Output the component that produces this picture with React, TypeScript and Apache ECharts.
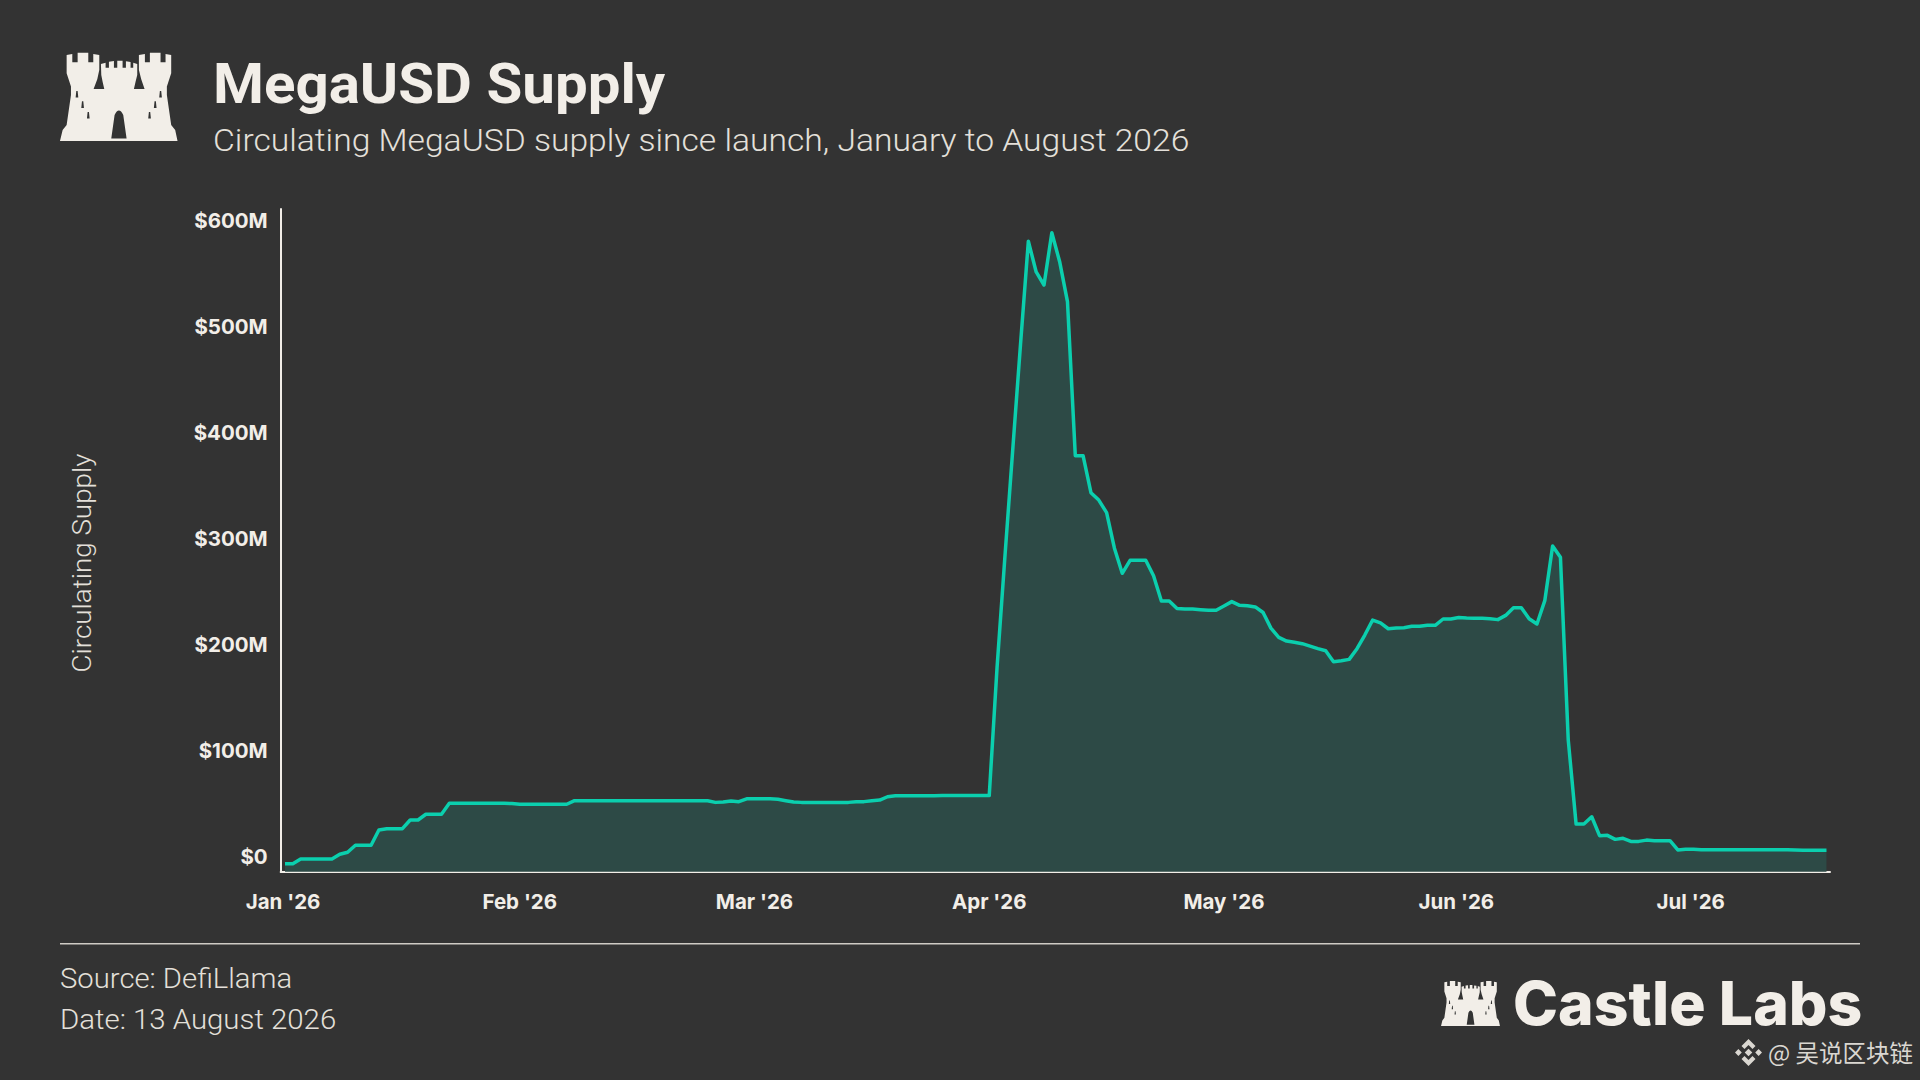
import React, { useEffect, useRef } from "react";
import * as echarts from "echarts";

const TITLE = "MegaUSD Supply";
const SUBTITLE = "Circulating MegaUSD supply since launch, January to August 2026";
const Y_NAME = "Circulating Supply";
const SOURCE = "Source: DefiLlama";
const DATE = "Date: 13 August 2026";
const BRAND = "Castle Labs";
const WATERMARK = "@ 吴说区块链";

const monthLabels = ["Jan '26", "Feb '26", "Mar '26", "Apr '26", "May '26", "Jun '26", "Jul '26"];
const monthTicks = [-0.25, 30, 60, 90, 120, 149.7, 179.65];
const yTicks = [0, 100, 200, 300, 400, 500, 600];

// $M, one value per sampled point
const supplyRamp = [
  -7.2, -7.2, -2.8, -2.8, -2.8, -2.8, -2.8, 1.6, 3.5, 10.1, 10.1, 10.1, 24.5, 25.8, 25.8, 25.8, 34, 34, 39.4, 39.4,
  39.4, 49.7, 49.7, 49.7, 49.7, 49.7, 49.7, 49.7, 49.7, 49.5, 48.8, 48.8, 48.8, 48.8, 48.8, 48.8, 48.8,
];
const supplyPlateau = [
  52.2, 52.2, 52.2, 52.2, 52.2, 52.2, 52.2, 52.2, 52.2, 52.2, 52.2, 52.2, 52.2, 52.2, 52.2, 52.2, 52.2, 52.2, 50.6, 51,
  52, 51.3, 54, 54, 54, 54, 53.5, 52.2, 51, 50.6, 50.6, 50.6, 50.6, 50.6, 50.6, 50.6, 51.3, 51.3, 52.2, 52.8, 55.9,
  56.9, 56.9, 56.9, 56.9, 56.9, 56.9, 57, 57, 57, 57.2, 57.2, 57.2, 57,
];
const supplySpike = [
  178, 282, 383, 483, 580, 551, 538.7, 588, 560.7, 523, 377.6, 377.6, 342.8, 335.8, 323.9, 290.4, 266.7, 279, 279, 279,
  264.4, 240.6, 240.6, 233.6, 233, 233, 232.4, 231.8, 231.8, 235.8, 240, 236.5, 236, 235, 229.7, 215, 206.3,
];
const supplyMiddle = [
  202.8, 201.6, 200.3, 198, 195.6, 193.7, 183.3, 184.3, 185.5, 195.6, 208.5, 222.6, 220, 214.4, 215, 215.4, 216.7,
  216.7, 217.6, 217.6, 223.6, 223.6, 225, 224.5, 224.2, 224.2, 223.9, 223, 227, 234.2, 234.2, 223.9, 218.9, 240.9,
  292.5, 281.8,
];
const supplyTail = [
  109.4, 30.2, 30.2, 37, 19.2, 19.5, 15.7, 16.7, 13.8, 13.8, 15, 14.5, 14.5, 14.5, 5.7, 6.3, 6.3, 6, 6, 6, 6, 6, 6, 6,
  6, 6, 6, 5.8, 5.8, 5.6, 5.5, 5.4, 5.4, 5.4,
];
const supplyValues = [...supplyRamp, ...supplyPlateau, ...supplySpike, ...supplyMiddle, ...supplyTail];

const BG = "#333333";
const INK = "#F2EEE8";
const SOFT = "#E4E0DA";
const MARK = "#DAD7D1";
const TEAL = "#0BCFAE";
const FILL = "#2D4A46";
const FONT = "Roboto";

const CASTLE =
  "M60,303 L68,270 L80,255 L93,165 L93,140 L80,100 L80,45 L97,42 L97,67 L113,67 L113,38 L145,38 L145,67 L160,67 L160,42 L178,45 L178,90 L172,118 L161,147 L193,147 L188,125 L184,105 L183,72 L197,68 L197,83 L207,83 L207,65 L222,63 L222,83 L232,83 L232,62 L248,62 L248,83 L258,83 L258,64 L272,66 L272,83 L280,83 L280,68 L292,72 L292,105 L287,125 L282,147 L314,147 L304,118 L297,90 L297,45 L315,42 L315,67 L330,67 L330,38 L362,38 L362,67 L377,67 L377,42 L394,45 L394,100 L381,140 L381,165 L394,255 L406,270 L413,303 Z " +
  "M214,296 L260,296 L250,225 Q237,198 224,225 Z " +
  "M107,173 L115,173 L113,153 L109,153 Z M124,204 L132,204 L130,184 L126,184 Z M141,236 L149,236 L147,216 L143,216 Z " +
  "M358,173 L366,173 L364,153 L360,153 Z M342,204 L350,204 L348,184 L344,184 Z M325,236 L333,236 L331,216 L327,216 Z";

const DIAMOND =
  "M13.5,0 L20.5,7 L17.5,10 L13.5,6 L9.5,10 L6.5,7 Z M13.5,27 L6.5,20 L9.5,17 L13.5,21 L17.5,17 L20.5,20 Z " +
  "M13.5,9.7 L17.3,13.5 L13.5,17.3 L9.7,13.5 Z M3.4,10.1 L6.8,13.5 L3.4,16.9 L0,13.5 Z M23.6,10.1 L27,13.5 L23.6,16.9 L20.2,13.5 Z";

echarts.graphic.registerShape("castle", echarts.graphic.extendPath(CASTLE, {}) as any);
echarts.graphic.registerShape("bnb", echarts.graphic.extendPath(DIAMOND, {}) as any);

export default function App() {
  const ref = useRef<HTMLDivElement>(null);
  useEffect(() => {
    const chart = echarts.init(ref.current!, null, { renderer: "svg" });
    chart.setOption({
      animation: false,
      backgroundColor: BG,
      grid: { left: 280.7, right: 90, top: 209, bottom: 208.3, containLabel: false },
      xAxis: {
        type: "value",
        min: -0.55,
        max: 197.45,
        splitLine: { show: false },
        axisTick: { show: false },
        axisLine: { show: true, onZero: false, lineStyle: { color: INK, width: 2 } },
        axisLabel: {
          customValues: monthTicks,
          formatter: (v: number) => monthLabels[monthTicks.indexOf(v)],
          color: INK,
          fontFamily: "Inter",
          fontWeight: 700,
          fontSize: 20.5,
          margin: 19,
          hideOverlap: false,
        },
      },
      yAxis: {
        type: "value",
        min: -14.8,
        max: 610.4,
        splitLine: { show: false },
        axisTick: { show: false },
        axisLine: { show: true, onZero: false, lineStyle: { color: INK, width: 2 } },
        axisLabel: {
          customValues: yTicks,
          formatter: (v: number) => `$${v}M`.replace("$0M", "$0"),
          color: INK,
          fontFamily: "Inter",
          fontWeight: 700,
          fontSize: 20.5,
          margin: 13,
        },
      },
      series: [
        {
          type: "line",
          data: supplyValues.map((v, i) => [i, v]),
          showSymbol: false,
          lineStyle: { color: TEAL, width: 3.5, join: "round" },
          itemStyle: { color: TEAL },
          areaStyle: { color: FILL, opacity: 1, origin: "start" },
          z: 2,
        },
      ],
      graphic: [
        { type: "castle", x: 40, y: 40, scaleX: 1 / 3, scaleY: 1 / 3, style: { fill: INK } },
        { type: "castle", x: 1431, y: 974.5, scaleX: 0.167, scaleY: 0.17, style: { fill: INK } },
        { type: "bnb", x: 1735, y: 1039, style: { fill: MARK } },
        { type: "text", x: 213, y: 84, scaleX: 1.04, style: { text: TITLE, fill: INK, font: `700 56px ${FONT}`, textVerticalAlign: "middle" } },
        { type: "text", x: 213, y: 140, scaleX: 1.051, style: { text: SUBTITLE, fill: SOFT, font: `300 32px ${FONT}`, textVerticalAlign: "middle" } },
        { type: "text", x: 82, y: 563, rotation: Math.PI / 2, scaleX: 1.07, style: { text: Y_NAME, fill: SOFT, font: `300 26px ${FONT}`, textAlign: "center", textVerticalAlign: "middle" } },
        { type: "rect", shape: { x: 60, y: 943, width: 1800, height: 1.6 }, style: { fill: "#CFCBC5" } },
        { type: "text", x: 60, y: 978, scaleX: 1.045, style: { text: SOURCE, fill: SOFT, font: `300 28px ${FONT}`, textVerticalAlign: "middle" } },
        { type: "text", x: 60, y: 1019, scaleX: 1.05, style: { text: DATE, fill: SOFT, font: `300 28px ${FONT}`, textVerticalAlign: "middle" } },
        { type: "text", x: 1513, y: 1004, scaleX: 1.011, style: { text: BRAND, fill: INK, font: `800 60px Inter`, textVerticalAlign: "middle" } },
        { type: "text", x: 1768, y: 1052, style: { text: WATERMARK, fill: MARK, font: `400 23.5px "Noto Sans CJK SC"`, textVerticalAlign: "middle" } },
      ],
    });
    return () => chart.dispose();
  }, []);
  return <div ref={ref} style={{ position: "fixed", left: 0, top: 0, width: 1920, height: 1080 }} />;
}
